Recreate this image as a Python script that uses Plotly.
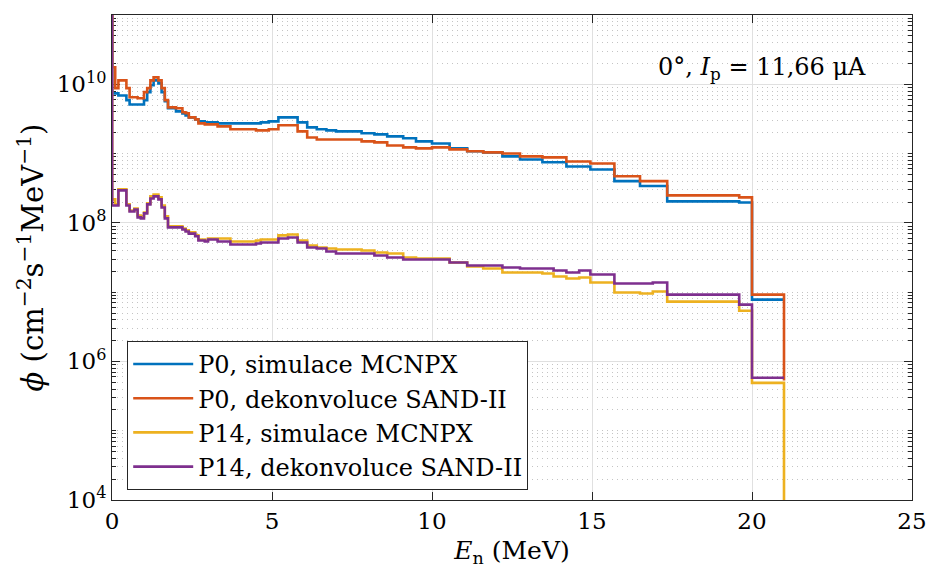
import plotly.graph_objects as go

# Energy group boundaries (MeV), shared by all spectra
edges = [0, 0.005, 0.1, 0.2, 0.3, 0.45, 0.55, 0.7, 0.8, 0.9, 1.0, 1.1, 1.2, 1.3, 1.45,
         1.55, 1.65, 1.75, 2.0, 2.2, 2.3, 2.4, 2.6, 2.7, 2.9, 3.0, 3.3, 3.7, 4.5, 4.65,
         4.9, 5.2, 5.5, 5.8, 6.1, 6.4, 6.7, 7.0, 7.8, 8.2, 8.6, 9.1, 9.5, 10.0, 10.55,
         11.1, 11.6, 12.2, 12.75, 13.45, 13.8, 14.2, 14.6, 14.95, 15.7, 16.5, 16.9, 17.35,
         19.6, 20.0, 21.0]

# Group fluxes (cm^-2 s^-1 MeV^-1); the last entry is the value at the final edge
p0_mcnpx = [1e12, 7.4e9, 7.4e9, 6.9e9, 6.9e9, 5.9e9, 5.1e9, 5.1e9, 5.1e9, 5.1e9, 5.9e9,
            7.7e9, 9.7e9, 1.14e10, 1.03e10, 7.7e9, 5.7e9, 4.5e9, 4.07e9, 3.8e9, 3.56e9,
            3.33e9, 3.12e9, 2.92e9, 2.82e9, 2.82e9, 2.73e9, 2.73e9, 2.73e9, 2.82e9, 2.92e9,
            3.33e9, 3.33e9, 2.82e9, 2.39e9, 2.24e9, 2.16e9, 2.09e9, 1.96e9, 1.89e9, 1.77e9,
            1.66e9, 1.5e9, 1.4e9, 1.19e9, 1.08e9, 1.04e9, 9.1e8, 8.2e8, 7.5e8, 7.5e8,
            6.5e8, 6.5e8, 5.9e8, 4.0e8, 3.4e8, 3.4e8, 2.04e8, 1.97e8, 7.8e6, 7.8e6]

p0_sand = [1e12, 1.76e10, 8.8e9, 1.14e10, 1.14e10, 8.8e9, 6.5e9, 6.5e9, 6.3e9, 6.3e9, 7.7e9,
           8.8e9, 1.14e10, 1.26e10, 1.14e10, 8.8e9, 5.9e9, 4.65e9, 4.5e9, 3.94e9, 3.81e9,
           3.33e9, 3.12e9, 2.73e9, 2.64e9, 2.64e9, 2.47e9, 2.24e9, 2.16e9, 2.16e9, 2.24e9,
           2.56e9, 2.56e9, 2.09e9, 1.71e9, 1.6e9, 1.6e9, 1.6e9, 1.5e9, 1.45e9, 1.31e9,
           1.23e9, 1.19e9, 1.23e9, 1.15e9, 1.08e9, 1.04e9, 1.0e9, 9.1e8, 8.8e8, 8.8e8,
           7.7e8, 7.7e8, 7.2e8, 4.7e8, 4.0e8, 4.0e8, 2.49e8, 2.33e8, 9.2e6, 5.3e5]

p14_mcnpx = [1e12, 2.18e8, 1.85e8, 3.04e8, 3.04e8, 1.85e8, 1.51e8, 1.61e8, 1.28e8, 1.24e8,
             1.41e8, 1.91e8, 2.41e8, 2.57e8, 2.33e8, 1.78e8, 1.24e8, 8.9e7, 8.9e7, 8.3e7,
             7.8e7, 7.3e7, 6.6e7, 5.75e7, 5.57e7, 5.95e7, 5.95e7, 5.38e7, 5.57e7, 5.75e7,
             5.75e7, 6.6e7, 6.8e7, 5.57e7, 4.71e7, 4.41e7, 4.27e7, 4.13e7, 3.99e7, 3.74e7,
             3.61e7, 3.16e7, 3.06e7, 3.06e7, 2.68e7, 2.34e7, 2.19e7, 1.92e7, 1.92e7, 1.86e7,
             1.68e7, 1.57e7, 1.63e7, 1.38e7, 9.9e6, 9.55e6, 1.02e7, 7.3e6, 5.4e6, 4.9e5, 1e2]

p14_sand = [1e12, 1.78e8, 1.78e8, 2.94e8, 2.94e8, 1.78e8, 1.46e8, 1.56e8, 1.2e8, 1.16e8,
            1.37e8, 1.85e8, 2.25e8, 2.41e8, 2.18e8, 1.67e8, 1.16e8, 8.6e7, 8.6e7, 8.0e7,
            7.5e7, 7.0e7, 6.4e7, 5.57e7, 5.38e7, 5.75e7, 5.38e7, 4.87e7, 5.04e7, 5.21e7,
            5.21e7, 5.95e7, 6.15e7, 5.21e7, 4.41e7, 4.27e7, 3.86e7, 3.61e7, 3.61e7, 3.38e7,
            3.16e7, 2.96e7, 2.96e7, 2.96e7, 2.68e7, 2.42e7, 2.42e7, 2.27e7, 2.19e7, 2.19e7,
            2.05e7, 1.92e7, 2.05e7, 1.8e7, 1.33e7, 1.33e7, 1.38e7, 9.2e6, 6.6e6, 5.8e5, 5.8e5]

series = [
    ("P0, simulace MCNPX", p0_mcnpx, "#0072BD"),
    ("P0, dekonvoluce SAND-II", p0_sand, "#D95319"),
    ("P14, simulace MCNPX", p14_mcnpx, "#EDB120"),
    ("P14, dekonvoluce SAND-II", p14_sand, "#7E2F8E"),
]

y_ticks = [1e4, 1e6, 1e8, 1e10]
y_ticktext = ["10<sup>4</sup>", "10<sup>6</sup>", "10<sup>8</sup>", "10<sup>10</sup>"]
x_ticks = [0, 5, 10, 15, 20, 25]

FONT = "'DejaVu Serif', serif"
AX = "#262626"

fig = go.Figure()
for name, vals, color in series:
    fig.add_trace(go.Scatter(
        x=edges, y=vals, name=name, mode="lines", line_shape="hv",
        line=dict(color=color, width=2.6),
    ))

fig.update_layout(
    width=928, height=576,
    margin=dict(l=112, r=16, t=15, b=76, autoexpand=False),
    paper_bgcolor="white", plot_bgcolor="white",
    font=dict(family=FONT, size=23, color=AX),
    showlegend=True,
    legend=dict(
        x=0.019, y=0.328, xanchor="left", yanchor="top",
        bgcolor="white", bordercolor=AX, borderwidth=1,
        font=dict(family=FONT, size=24, color="black"),
        itemwidth=60, tracegroupgap=0,
    ),
)

fig.update_xaxes(
    range=[0, 25], tickvals=x_ticks, ticks="inside", ticklen=8, tickcolor=AX,
    showline=True, linecolor=AX, linewidth=1, mirror="allticks",
    showgrid=True, gridcolor="#e0e0e0", gridwidth=1, zeroline=False, automargin=False,
    tickfont=dict(family=FONT, size=23, color="black"), layer="below traces",
    title=dict(text="<i>E</i><sub>n</sub> (MeV)",
               font=dict(family=FONT, size=25, color="black"), standoff=8),
)

fig.update_yaxes(
    type="log", range=[4, 11], tickvals=y_ticks, ticktext=y_ticktext,
    ticks="inside", ticklen=8, tickcolor=AX,
    showline=True, linecolor=AX, linewidth=1, mirror="allticks",
    showgrid=True, gridcolor="#e0e0e0", gridwidth=1, zeroline=False, automargin=False,
    tickfont=dict(family=FONT, size=23, color="black"), layer="below traces",
    minor=dict(dtick="D1", ticks="inside", ticklen=4, tickcolor=AX,
               showgrid=True, gridcolor="#c4c4c4", griddash="1px,4px", gridwidth=1),
    title=dict(text="<i>ϕ</i> (cm<sup>−2</sup>s<sup>−1</sup>MeV<sup>−1</sup>)",
               font=dict(family=FONT, size=29, color="black"), standoff=4),
)

fig.add_annotation(
    x=0.945, y=0.89, xref="paper", yref="paper", xanchor="right", yanchor="middle",
    text="0°, <i>I</i><sub>p</sub> = 11,66 μA", showarrow=False,
    font=dict(family=FONT, size=24, color="black"),
)

fig.write_html("out.html")
